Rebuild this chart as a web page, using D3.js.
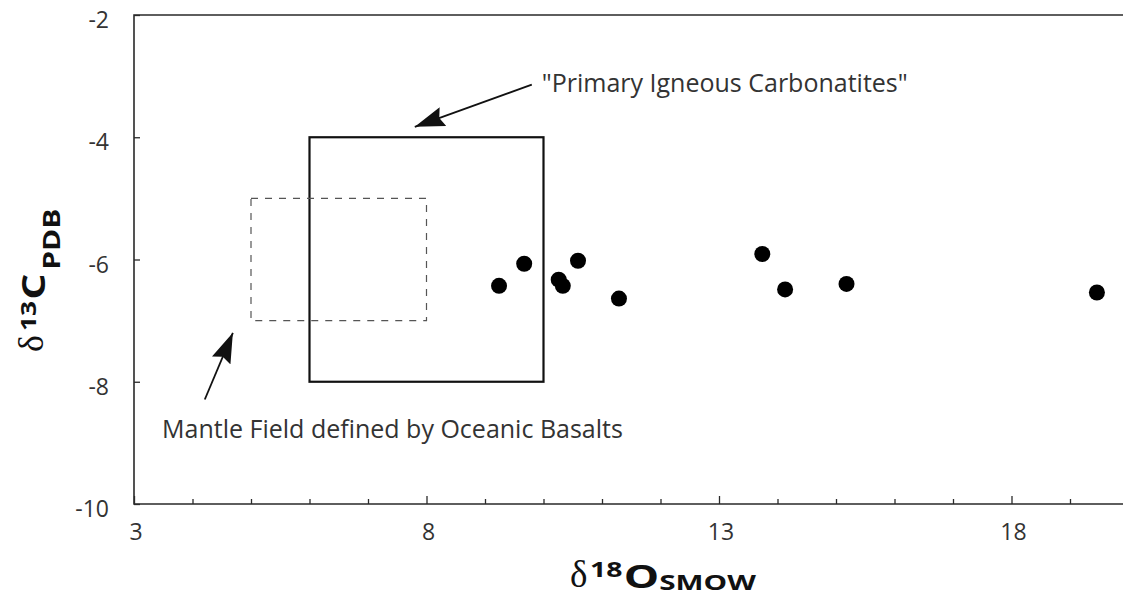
<!DOCTYPE html>
<html>
<head>
<meta charset="utf-8">
<script src="https://cdn.jsdelivr.net/npm/d3@7"></script>
<style>
  html, body { margin: 0; padding: 0; background: #fff; }
  svg { display: block; }
</style>
</head>
<body>
<svg id="chart" width="1123" height="608"></svg>
<script>
// ---- data ----
const oxygen = [9.24, 9.67, 10.26, 10.33, 10.59, 11.29, 13.74, 14.13, 15.18, 19.46];
const carbon = [-6.43, -6.07, -6.33, -6.43, -6.02, -6.64, -5.91, -6.49, -6.40, -6.54];

const fieldNames = ["Primary Igneous Carbonatites", "Mantle Field defined by Oceanic Basalts"];
const fieldX0 = [6, 5];
const fieldX1 = [10, 8];
const fieldY0 = [-8, -7];
const fieldY1 = [-4, -5];

const xTickLabels = [3, 8, 13, 18];
const xMinorTicks = d3.range(3, 21, 1);
const yTickLabels = [-2, -4, -6, -8, -10];

// annotation anchors (data units)
const labelText = ["\"Primary Igneous Carbonatites\"", "Mantle Field defined by Oceanic Basalts"];
const labelX = [9.97, 3.48];
const labelY = [-3.26, -8.92];
const arrowFromX = [9.80, 4.21];
const arrowFromY = [-3.14, -8.29];
const arrowToX = [7.80, 4.69];
const arrowToY = [-3.83, -7.20];

// ---- layout ----
const svg = d3.select("#chart");
const mLeft = 134, mTop = 15, mBottom = 504, mRight = 1128.5;

const x = d3.scaleLinear().domain([3, 20]).range([mLeft, mRight]);
const y = d3.scaleLinear().domain([-10, -2]).range([mBottom, mTop]);

const ink = "#2a2a2a";
const sans = "'Open Sans', Lato, sans-serif";
const bold = "'Open Sans', sans-serif";
const serif = "'Liberation Serif', serif";

// frame
svg.append("path")
  .attr("d", `M${mRight},${mTop}H${mLeft}V${mBottom}H${mRight}V${mTop}`)
  .attr("fill", "none").attr("stroke", ink).attr("stroke-width", 1.6);

// x minor/major ticks (inward)
const xAxis = d3.axisBottom(x).tickValues(xMinorTicks)
  .tickSizeInner(0).tickSizeOuter(0).tickFormat("");
const gx = svg.append("g").attr("transform", `translate(0,${mBottom})`).call(xAxis);
gx.select(".domain").remove();
gx.selectAll(".tick line")
  .attr("y2", d => xTickLabels.includes(d) ? -8 : -5)
  .attr("stroke", ink).attr("stroke-width", 1.3);

// x tick labels
svg.append("g").selectAll("text").data(xTickLabels).join("text")
  .attr("x", d => x(d) + 2)
  .attr("y", mBottom + 36)
  .attr("text-anchor", "middle")
  .attr("font-family", sans).attr("font-size", 23).attr("fill", "#333")
  .text(d => d);

// y ticks (inward)
const yAxis = d3.axisLeft(y).tickValues(yTickLabels).tickSizeInner(0).tickSizeOuter(0).tickFormat("");
const gy = svg.append("g").attr("transform", `translate(${mLeft},0)`).call(yAxis);
gy.select(".domain").remove();
gy.selectAll(".tick line").attr("x2", 6).attr("stroke", ink).attr("stroke-width", 1.3);

svg.append("g").selectAll("text").data(yTickLabels).join("text")
  .attr("x", mLeft - 25)
  .attr("y", d => y(d) + 13)
  .attr("text-anchor", "end")
  .attr("font-family", sans).attr("font-size", 23).attr("fill", "#333")
  .text(d => d);

// fields
svg.append("g").selectAll("rect").data(fieldNames).join("rect")
  .attr("x", (d, i) => x(fieldX0[i]))
  .attr("y", (d, i) => y(fieldY1[i]))
  .attr("width", (d, i) => x(fieldX1[i]) - x(fieldX0[i]))
  .attr("height", (d, i) => y(fieldY0[i]) - y(fieldY1[i]))
  .attr("fill", "none")
  .attr("stroke", (d, i) => i === 0 ? "#111" : "#555")
  .attr("stroke-width", (d, i) => i === 0 ? 2.2 : 1.2)
  .attr("stroke-dasharray", (d, i) => i === 0 ? null : "7,7");

// arrows
svg.append("defs").append("marker")
  .attr("id", "head").attr("viewBox", "0 0 30 20")
  .attr("refX", 30).attr("refY", 10)
  .attr("markerWidth", 30).attr("markerHeight", 20)
  .attr("markerUnits", "userSpaceOnUse")
  .attr("orient", "auto")
  .append("path").attr("d", "M0,0L30,10L0,20L4,10Z").attr("fill", "#111");

svg.append("g").selectAll("line").data(arrowFromX).join("line")
  .attr("x1", (d, i) => x(arrowFromX[i]))
  .attr("y1", (d, i) => y(arrowFromY[i]))
  .attr("x2", (d, i) => x(arrowToX[i]))
  .attr("y2", (d, i) => y(arrowToY[i]))
  .attr("stroke", "#111").attr("stroke-width", 1.8)
  .attr("marker-end", "url(#head)");

// annotation text
svg.append("g").selectAll("text").data(labelText).join("text")
  .attr("x", (d, i) => x(labelX[i]))
  .attr("y", (d, i) => y(labelY[i]))
  .attr("font-family", sans).attr("font-size", 25).attr("fill", "#333")
  .text(d => d);

// points
svg.append("g").selectAll("circle").data(oxygen).join("circle")
  .attr("cx", (d, i) => x(oxygen[i]))
  .attr("cy", (d, i) => y(carbon[i]))
  .attr("r", 8)
  .attr("fill", "#000");

// ---- axis titles ----
// x title: δ18O SMOW
svg.append("text")
  .attr("x", 570).attr("y", 587)
  .attr("font-family", serif).attr("font-size", 37).attr("fill", "#111")
  .text("δ");
const xtg = svg.append("g").attr("transform", "translate(590,588) scale(1.35,1)");
const xt = xtg.append("text").attr("fill", "#111").attr("font-family", bold).attr("font-weight", 700);
xt.append("tspan").attr("font-size", 21).attr("dy", -11).text("18");
xt.append("tspan").attr("font-size", 33).attr("dy", 11).attr("dx", 1).text("O");
xt.append("tspan").attr("font-size", 22).attr("dy", 2).text("SMOW");

// y title: δ13C PDB (rotated)
const ytg = svg.append("g").attr("transform", "translate(45,352) rotate(-90)");
ytg.append("text")
  .attr("x", 0).attr("y", -2)
  .attr("font-family", serif).attr("font-size", 36).attr("fill", "#111")
  .text("δ");
const yt = ytg.append("g").attr("transform", "translate(21,0) scale(1.25,1)")
  .append("text").attr("fill", "#111").attr("font-family", bold).attr("font-weight", 700);
yt.append("tspan").attr("font-size", 21).attr("dy", -9).text("13");
yt.append("tspan").attr("font-size", 33).attr("dy", 9).attr("dx", 1).text("C");
yt.append("tspan").attr("font-size", 24).attr("dy", 15).attr("dx", 3).text("PDB");
</script>
</body>
</html>
